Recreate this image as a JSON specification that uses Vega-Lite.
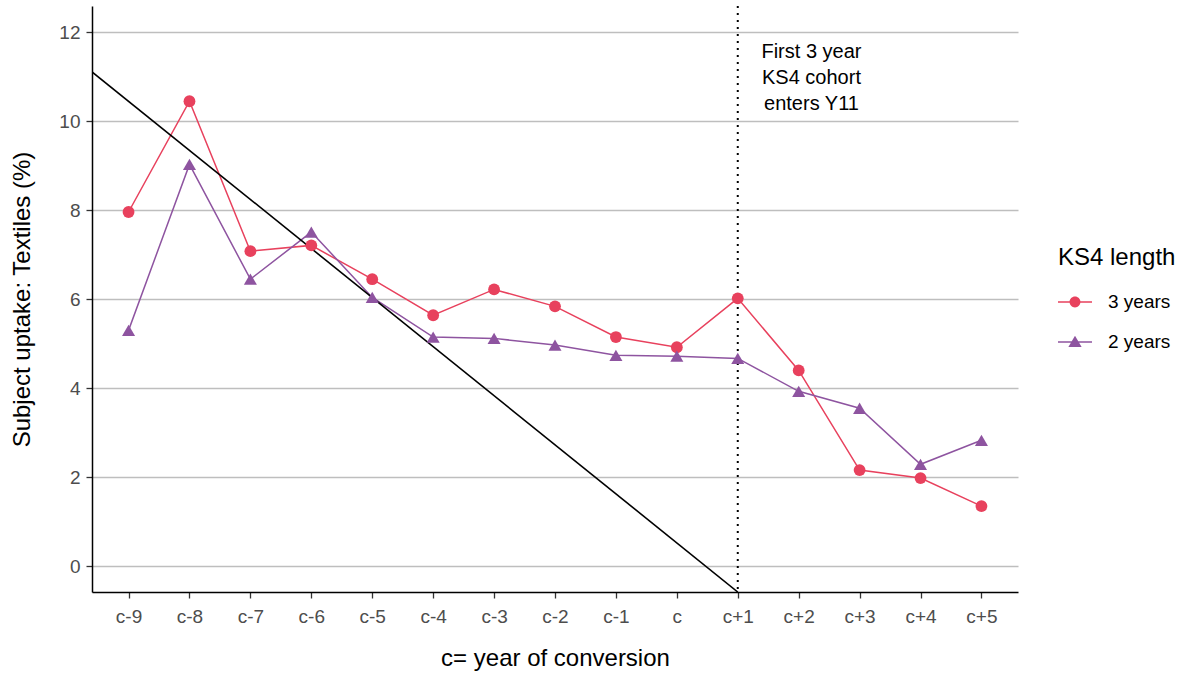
{
  "$schema": "https://vega.github.io/schema/vega-lite/v6.json",
  "width": 926,
  "height": 586,
  "autosize": "none",
  "padding": {"left": 92, "top": 6, "right": 166, "bottom": 82},
  "background": "white",
  "config": {
    "view": {"stroke": null},
    "font": "Liberation Sans",
    "axis": {
      "domainColor": "black",
      "domainWidth": 1.5,
      "tickColor": "#333333",
      "tickWidth": 1.3,
      "tickSize": 6,
      "labelColor": "#4D4D4D",
      "labelFontSize": 19,
      "labelFont": "Liberation Sans",
      "titleFont": "Liberation Sans",
      "titleFontSize": 24,
      "titleFontWeight": "normal",
      "titleColor": "black"
    },
    "legend": {
      "titleFont": "Liberation Sans",
      "labelFont": "Liberation Sans",
      "titleFontSize": 24,
      "titleFontWeight": "normal",
      "titleColor": "black",
      "labelFontSize": 19,
      "labelColor": "black",
      "orient": "none",
      "legendX": 966,
      "legendY": 240,
      "symbolSize": 1156,
      "labelOffset": 16,
      "rowPadding": 13,
      "titlePadding": 15
    }
  },
  "data": {
    "values": [
      {"idx": 1, "length": "3 years", "uptake": 7.96},
      {"idx": 2, "length": "3 years", "uptake": 10.45},
      {"idx": 3, "length": "3 years", "uptake": 7.08},
      {"idx": 4, "length": "3 years", "uptake": 7.21},
      {"idx": 5, "length": "3 years", "uptake": 6.45},
      {"idx": 6, "length": "3 years", "uptake": 5.64},
      {"idx": 7, "length": "3 years", "uptake": 6.22},
      {"idx": 8, "length": "3 years", "uptake": 5.84},
      {"idx": 9, "length": "3 years", "uptake": 5.15},
      {"idx": 10, "length": "3 years", "uptake": 4.92},
      {"idx": 11, "length": "3 years", "uptake": 6.02},
      {"idx": 12, "length": "3 years", "uptake": 4.40},
      {"idx": 13, "length": "3 years", "uptake": 2.16},
      {"idx": 14, "length": "3 years", "uptake": 1.98},
      {"idx": 15, "length": "3 years", "uptake": 1.35},
      {"idx": 1, "length": "2 years", "uptake": 5.30},
      {"idx": 2, "length": "2 years", "uptake": 9.03},
      {"idx": 3, "length": "2 years", "uptake": 6.45},
      {"idx": 4, "length": "2 years", "uptake": 7.51},
      {"idx": 5, "length": "2 years", "uptake": 6.04},
      {"idx": 6, "length": "2 years", "uptake": 5.15},
      {"idx": 7, "length": "2 years", "uptake": 5.12},
      {"idx": 8, "length": "2 years", "uptake": 4.97},
      {"idx": 9, "length": "2 years", "uptake": 4.74},
      {"idx": 10, "length": "2 years", "uptake": 4.72},
      {"idx": 11, "length": "2 years", "uptake": 4.67},
      {"idx": 12, "length": "2 years", "uptake": 3.93},
      {"idx": 13, "length": "2 years", "uptake": 3.55},
      {"idx": 14, "length": "2 years", "uptake": 2.29},
      {"idx": 15, "length": "2 years", "uptake": 2.83}
    ]
  },
  "encoding": {
    "x": {
      "field": "idx",
      "type": "quantitative",
      "scale": {"domain": [0.4, 15.6], "nice": false, "zero": false},
      "axis": {
        "title": "c= year of conversion",
        "grid": false,
        "values": [1, 2, 3, 4, 5, 6, 7, 8, 9, 10, 11, 12, 13, 14, 15],
        "labelExpr": "['c-9','c-8','c-7','c-6','c-5','c-4','c-3','c-2','c-1','c','c+1','c+2','c+3','c+4','c+5'][datum.value - 1]",
        "labelPadding": 9,
        "titlePadding": 20
      }
    },
    "y": {
      "field": "uptake",
      "type": "quantitative",
      "scale": {"domain": [-0.58, 12.59], "nice": false, "zero": false},
      "axis": {
        "title": "Subject uptake: Textiles (%)",
        "values": [0, 2, 4, 6, 8, 10, 12],
        "grid": true,
        "gridColor": "#BEBEBE",
        "gridWidth": 1.3,
        "labelPadding": 6,
        "titlePadding": 24
      }
    }
  },
  "layer": [
    {
      "mark": {"type": "line", "strokeWidth": 1.5},
      "encoding": {
        "color": {
          "field": "length",
          "type": "nominal",
          "scale": {"domain": ["3 years", "2 years"], "range": ["#E8415D", "#8E54A0"]},
          "legend": {
            "title": "KS4 length",
            "encode": {
              "symbols": {
                "update": {
                  "shape": {"signal": "datum.value === '3 years' ? 'M-1,-0.05H1V0.05H-1Z M-0.32,0A0.32,0.32 0 1,1 0.32,0A0.32,0.32 0 1,1 -0.32,0Z' : 'M-1,-0.05H1V0.05H-1Z M0,-0.37L0.39,0.3L-0.39,0.3Z'"},
                  "size": {"value": 1156},
                  "strokeWidth": {"value": 0},
                  "fillOpacity": {"value": 1},
                  "opacity": {"value": 1}
                }
              }
            }
          }
        }
      }
    },
    {
      "data": {"values": [{"idx": 0.4, "uptake": 11.11}, {"idx": 11, "uptake": -0.58}]},
      "mark": {"type": "line", "color": "black", "strokeWidth": 1.6, "clip": true},
      "encoding": {}
    },
    {
      "data": {"values": [{"idx": 11}]},
      "mark": {"type": "rule", "color": "black", "strokeWidth": 2, "strokeDash": [2, 5]},
      "encoding": {"y": null}
    },
    {
      "transform": [{"filter": "datum.length === '3 years'"}],
      "mark": {"type": "point", "filled": true, "opacity": 1, "shape": "circle", "size": 140},
      "encoding": {
        "color": {"field": "length", "type": "nominal", "legend": {"title": "KS4 length"}}
      }
    },
    {
      "transform": [{"filter": "datum.length === '2 years'"}],
      "mark": {"type": "point", "filled": true, "opacity": 1, "shape": "triangle-up", "size": 170},
      "encoding": {
        "color": {"field": "length", "type": "nominal", "legend": {"title": "KS4 length"}}
      }
    },
    {
      "data": {"values": [{"idx": 12.21, "uptake": 11.55, "note": "First 3 year\nKS4 cohort\nenters Y11"}]},
      "mark": {"type": "text", "fontSize": 20, "lineHeight": 26, "align": "center", "baseline": "middle", "color": "black", "lineBreak": "\n"},
      "encoding": {"text": {"field": "note"}}
    }
  ]
}
